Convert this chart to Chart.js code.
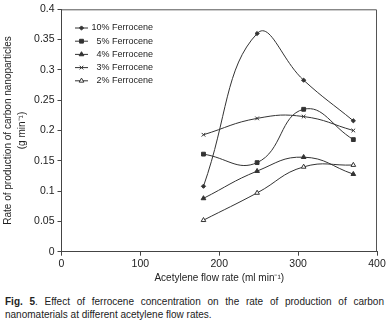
<!DOCTYPE html>
<html>
<head>
<meta charset="utf-8">
<script src="https://cdn.jsdelivr.net/npm/chart.js@4/dist/chart.umd.min.js"></script>
<style>
  body { margin: 0; background: #fff; }
  #wrap { position: relative; width: 389px; height: 327px; }
  #cap {
    position: absolute; left: 5px; top: 296px; width: 379px;
    font: 10px 'Liberation Sans', Arial, sans-serif; line-height: 12.7px;
    color: #222; text-align: justify; text-align-last: left;
  }
</style>
</head>
<body>
<div id="wrap">
  <canvas id="c" width="389" height="285" style="width:389px;height:285px"></canvas>
  <div id="cap"><b>Fig. 5</b>. Effect of ferrocene concentration on the rate of production of carbon nanomaterials at different acetylene flow rates.</div>
</div>
<script>
var flow = [180, 248, 307, 370];
var labels = ["10% Ferrocene", "5% Ferrocene", "4% Ferrocene", "3% Ferrocene", "2% Ferrocene"];
var fe10 = [0.108, 0.360, 0.283, 0.216];
var fe5  = [0.161, 0.147, 0.235, 0.185];
var fe4  = [0.088, 0.133, 0.156, 0.128];
var fe3  = [0.193, 0.220, 0.223, 0.200];
var fe2  = [0.052, 0.097, 0.140, 0.143];
var xTicks = [0, 100, 200, 300, 400];
var yTicks = ["0", "0.05", "0.1", "0.15", "0.2", "0.25", "0.3", "0.35", "0.4"];

var ink = "#333"
  , font = "'Liberation Sans', Arial, sans-serif";

var styles = [
  { pointStyle: "rectRot",  pointRadius: 2.1, fill: ink },
  { pointStyle: "rect",     pointRadius: 2.7, fill: ink },
  { pointStyle: "triangle", pointRadius: 2.7, fill: ink },
  { pointStyle: "crossRot", pointRadius: 2.6, fill: ink },
  { pointStyle: "triangle", pointRadius: 2.7, fill: "#fff" }
];

function pts(arr) {
  return arr.map(function (v, i) { return { x: flow[i], y: v }; });
}

var series = [fe10, fe5, fe4, fe3, fe2];
var datasets = series.map(function (s, i) {
  return {
    label: labels[i],
    data: pts(s),
    showLine: true,
    tension: 0.45,
    borderColor: ink,
    borderWidth: 1,
    pointStyle: styles[i].pointStyle,
    pointRadius: styles[i].pointRadius,
    pointBackgroundColor: styles[i].fill,
    pointBorderColor: ink,
    pointBorderWidth: 1
  };
});

// legend drawn inside the plot, upper left
var innerLegend = {
  id: "innerLegend",
  afterDraw: function (chart) {
    var ctx = chart.ctx;
    ctx.save();
    chart.data.datasets.forEach(function (ds, i) {
      var y = 28 + i * 13.2;
      ctx.strokeStyle = ink;
      ctx.lineWidth = 1;
      ctx.beginPath();
      ctx.moveTo(75, y);
      ctx.lineTo(88, y);
      ctx.stroke();
      ctx.fillStyle = ds.pointBackgroundColor;
      Chart.helpers.drawPoint(ctx, { pointStyle: ds.pointStyle, radius: ds.pointRadius, borderWidth: 1 }, 81.5, y);
      ctx.fillStyle = "#222";
      ctx.font = "9px " + font;
      ctx.textAlign = "right";
      ctx.textBaseline = "middle";
      ctx.fillText(ds.label, 153, y);
    });
    ctx.restore();
  }
};

// box around plot area
var frame = {
  id: "frame",
  afterDatasetsDraw: function (chart) {
    var a = chart.chartArea, ctx = chart.ctx;
    ctx.save();
    ctx.strokeStyle = "#555";
    ctx.lineWidth = 1;
    ctx.beginPath();
    ctx.moveTo(a.left, a.top + 0.5);
    ctx.lineTo(a.right - 0.5, a.top + 0.5);
    ctx.lineTo(a.right - 0.5, a.bottom);
    ctx.stroke();
    ctx.restore();
  }
};

var ctx = document.getElementById("c").getContext("2d");
new Chart(ctx, {
  type: "scatter",
  data: { datasets: datasets },
  plugins: [frame, innerLegend],
  options: {
    responsive: false,
    animation: false,
    layout: { padding: { top: 9.3, right: 12, left: 0, bottom: 0 } },
    plugins: { legend: { display: false }, tooltip: { enabled: false } },
    scales: {
      x: {
        type: "linear", min: 0, max: 400,
        afterBuildTicks: function (s) { s.ticks = xTicks.map(function (v) { return { value: v }; }); },
        afterFit: function (s) { s.height = 33.3; },
        grid: { drawOnChartArea: false, drawTicks: true, tickLength: 4, color: "#444" },
        border: { color: "#444" },
        ticks: { color: "#222", padding: 2, font: { family: font, size: 10.5 }, maxRotation: 0 },
        title: { display: true, text: "Acetylene flow rate (ml min\u207B\u00B9)", color: "#222",
                 font: { family: font, size: 10 }, padding: { top: 0, bottom: 1 } }
      },
      y: {
        min: 0, max: 0.4,
        afterBuildTicks: function (s) { s.ticks = yTicks.map(function (t) { return { value: parseFloat(t) }; }); },
        afterFit: function (s) { s.width = 61.5; },
        grid: { drawOnChartArea: false, drawTicks: true, tickLength: 4, color: "#444" },
        border: { color: "#444" },
        ticks: {
          color: "#222", padding: 3, font: { family: font, size: 10.5 },
          callback: function (v) { return yTicks[Math.round(v / 0.05)]; }
        },
        title: { display: true, text: ["Rate of production of carbon nanoparticles", "(g min\u207B\u00B9)"],
                 color: "#222", font: { family: font, size: 10, lineHeight: 1.4 }, padding: { top: 1, bottom: 0 } }
      }
    }
  }
});
</script>
</body>
</html>
